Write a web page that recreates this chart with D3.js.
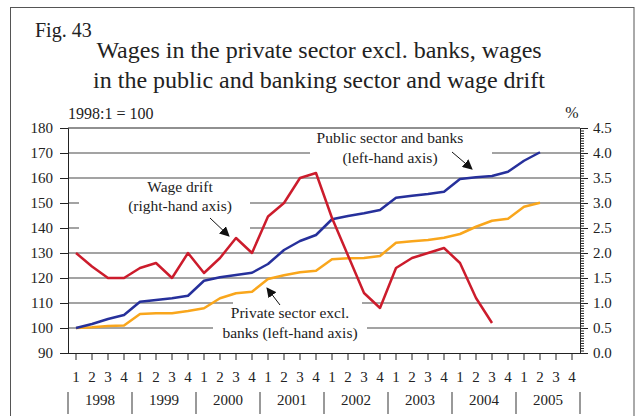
<!DOCTYPE html>
<html>
<head>
<meta charset="utf-8">
<script src="https://cdn.jsdelivr.net/npm/d3@7"></script>
<style>
  body { margin: 0; background: #fff; }
  svg { display: block; font-family: "Liberation Serif", "DejaVu Serif", "Times New Roman", Times, serif; }
</style>
</head>
<body>
<svg id="chart"></svg>
<script>
// quarters 1998:1 .. 2005:4
let years = ['1998', '1999', '2000', '2001', '2002', '2003', '2004', '2005'];
let quarterLabels = ['1', '2', '3', '4'];
let quarters = [];
years.forEach(y => quarterLabels.forEach(q => quarters.push(y + ':' + q)));

// left-hand axis, 1998:1 = 100
let publicBanks = [100, 101.6, 103.6, 105.2, 110.5, 111.2, 111.9, 112.9, 118.9, 120.3, 121.2, 122.1,
  125.6, 131.2, 134.8, 137.2, 143.5, 144.8, 145.9, 147.2, 152.1, 152.9, 153.6, 154.5,
  159.6, 160.3, 160.8, 162.5, 166.9, 170.3];
let privateExclBanks = [100, 100.3, 100.8, 101.0, 105.6, 105.9, 105.9, 106.8, 107.9, 111.9, 113.9, 114.5,
  119.6, 121.1, 122.3, 122.9, 127.5, 127.9, 128.0, 128.8, 134.1, 134.7, 135.2, 136.1,
  137.6, 140.5, 142.9, 143.7, 148.5, 150.1];
// right-hand axis, per cent
let wageDrift = [2.0, 1.73, 1.5, 1.5, 1.7, 1.8, 1.5, 2.0, 1.6, 1.9, 2.3, 2.0,
  2.73, 3.0, 3.5, 3.6, 2.7, 1.95, 1.2, 0.9, 1.7, 1.9, 2.0, 2.1, 1.8, 1.1, 0.6];

let leftTicks = [90, 100, 110, 120, 130, 140, 150, 160, 170, 180];
let rightTicks = [0, 0.5, 1, 1.5, 2, 2.5, 3, 3.5, 4, 4.5];

let width = 635, height = 416;
let plotLeft = 68, plotRight = 580, plotTop = 128, plotBottom = 353;
let textColor = '#222';
let gridColor = '#858585';
let serif = '"Liberation Serif", "DejaVu Serif", "Times New Roman", Times, serif';

let svg = d3.select('#chart').attr('width', width).attr('height', height)
  .style('font-family', serif);

// outer frame
svg.append('rect')
  .attr('x', 10.5).attr('y', 7.5)
  .attr('width', 623.5).attr('height', 430)
  .attr('fill', 'none').attr('stroke', '#555').attr('stroke-width', 1);

let xScale = d3.scaleBand().domain(quarters).range([plotLeft, plotRight]);
let yLeft = d3.scaleLinear().domain([90, 180]).range([plotBottom, plotTop]);
let yRight = d3.scaleLinear().domain([0, 4.5]).range([plotBottom, plotTop]);
let xc = i => xScale(quarters[i]) + xScale.bandwidth() / 2;

// title
svg.append('text').attr('x', 35).attr('y', 37)
  .attr('font-size', 20).attr('fill', textColor).text('Fig. 43');
svg.append('text').attr('x', 319).attr('y', 58).attr('text-anchor', 'middle')
  .attr('font-size', 24).attr('fill', textColor)
  .text('Wages in the private sector excl. banks, wages');
svg.append('text').attr('x', 319).attr('y', 88).attr('text-anchor', 'middle')
  .attr('font-size', 24).attr('fill', textColor)
  .text('in the public and banking sector and wage drift');
svg.append('text').attr('x', 68).attr('y', 119)
  .attr('font-size', 16).attr('fill', textColor).text('1998:1 = 100');
svg.append('text').attr('x', 572).attr('y', 118).attr('text-anchor', 'middle')
  .attr('font-size', 16).attr('fill', textColor).text('%');

// gridlines
svg.append('g')
  .selectAll('line')
  .data(leftTicks.filter(d => d > 90 && d < 180))
  .enter()
  .append('line')
  .attr('x1', plotLeft).attr('x2', plotRight)
  .attr('y1', d => yLeft(d)).attr('y2', d => yLeft(d))
  .attr('stroke', gridColor).attr('stroke-width', 1.5);

// white boxes behind annotations (they cut the gridlines)
let gaps = [
  { x0: 79, x1: 250, y0: 195, y1: 236 },
  { x0: 310, x1: 492, y0: 146, y1: 160 },
  { x0: 233, x1: 362, y0: 296, y1: 310 },
  { x0: 213, x1: 367, y0: 320, y1: 336 }
];
svg.append('g').selectAll('rect').data(gaps).enter().append('rect')
  .attr('x', d => d.x0).attr('y', d => d.y0)
  .attr('width', d => d.x1 - d.x0).attr('height', d => d.y1 - d.y0)
  .attr('fill', '#fff');

// axes
let leftAxis = d3.axisLeft(yLeft).tickValues(leftTicks).tickSize(8).tickPadding(7);
let gL = svg.append('g').attr('transform', `translate(${plotLeft},0)`).call(leftAxis);

let rightMinor = d3.axisRight(yRight).tickValues(d3.range(0, 91).map(i => i * 0.05))
  .tickSize(4).tickFormat('');
svg.append('g').attr('transform', `translate(${plotRight},0)`).call(rightMinor)
  .call(g => g.select('.domain').remove())
  .call(g => g.selectAll('line').attr('stroke', '#222'));
let rightAxis = d3.axisRight(yRight).tickValues(rightTicks).tickSize(8).tickPadding(5)
  .tickFormat(d3.format('.1f'));
let gR = svg.append('g').attr('transform', `translate(${plotRight},0)`).call(rightAxis);

let bottomAxis = d3.axisBottom(xScale).tickSize(7).tickPadding(8)
  .tickFormat(d => d.split(':')[1]);
let gB = svg.append('g').attr('transform', `translate(0,${plotBottom})`).call(bottomAxis);
gB.select('.domain').attr('d', `M${plotLeft - 8},0.5H${plotRight}`);

[gL, gR, gB].forEach(g => {
  g.attr('font-family', null);
  g.selectAll('text').style('font-family', serif)
    .attr('font-size', 15).attr('fill', textColor);
  g.selectAll('line').attr('stroke', '#222');
  g.select('.domain').attr('stroke', '#222');
});
gB.selectAll('text').attr('dy', '0.95em');

// top border of plot
svg.append('line').attr('x1', plotLeft).attr('x2', plotRight)
  .attr('y1', plotTop).attr('y2', plotTop).attr('stroke', '#222').attr('stroke-width', 1.2);

// years under the quarters
let yearScale = d3.scaleBand().domain(years).range([plotLeft, plotRight]);
svg.append('g').selectAll('line')
  .data(years.concat(['end']))
  .enter().append('line')
  .attr('x1', (d, i) => plotLeft + i * yearScale.bandwidth())
  .attr('x2', (d, i) => plotLeft + i * yearScale.bandwidth())
  .attr('y1', 392).attr('y2', 414)
  .attr('stroke', '#555').attr('stroke-width', 1.2);
svg.append('g').selectAll('text')
  .data(years).enter().append('text')
  .attr('x', d => yearScale(d) + yearScale.bandwidth() / 2)
  .attr('y', 405).attr('text-anchor', 'middle')
  .attr('font-size', 15).attr('fill', textColor)
  .text(d => d);

// series
let series = [
  { values: privateExclBanks, scale: yLeft, color: '#f9a61c' },
  { values: publicBanks, scale: yLeft, color: '#26309b' },
  { values: wageDrift, scale: yRight, color: '#cc1c2c' }
];
series.forEach(s => {
  let line = d3.line().x((d, i) => xc(i)).y(d => s.scale(d));
  svg.append('path').datum(s.values)
    .attr('d', line)
    .attr('fill', 'none')
    .attr('stroke', s.color)
    .attr('stroke-width', 2.5)
    .attr('stroke-linejoin', 'round');
});

// annotations
let notes = [
  { x: 180, y: 192, t: 'Wage drift' },
  { x: 180, y: 211, t: '(right-hand axis)' },
  { x: 390, y: 143, t: 'Public sector and banks' },
  { x: 390, y: 163, t: '(left-hand axis)' },
  { x: 290, y: 318, t: 'Private sector excl.' },
  { x: 290, y: 338, t: 'banks (left-hand axis)' }
];
svg.append('g').selectAll('text').data(notes).enter().append('text')
  .attr('x', d => d.x).attr('y', d => d.y).attr('text-anchor', 'middle')
  .attr('font-size', 15.5).attr('fill', textColor).text(d => d.t);

svg.append('defs').append('marker')
  .attr('id', 'head').attr('viewBox', '0 0 10 10')
  .attr('refX', 9).attr('refY', 5)
  .attr('markerWidth', 10).attr('markerHeight', 10)
  .attr('markerUnits', 'userSpaceOnUse')
  .attr('orient', 'auto')
  .append('path').attr('d', 'M0,0L10,5L0,10z').attr('fill', '#111');

let arrows = [
  [210, 218, 229, 236],
  [452, 152, 472, 169],
  [280, 305, 267, 288]
];
svg.append('g').selectAll('line').data(arrows).enter().append('line')
  .attr('x1', d => d[0]).attr('y1', d => d[1])
  .attr('x2', d => d[2]).attr('y2', d => d[3])
  .attr('stroke', '#111').attr('stroke-width', 1)
  .attr('marker-end', 'url(#head)');
</script>
</body>
</html>
